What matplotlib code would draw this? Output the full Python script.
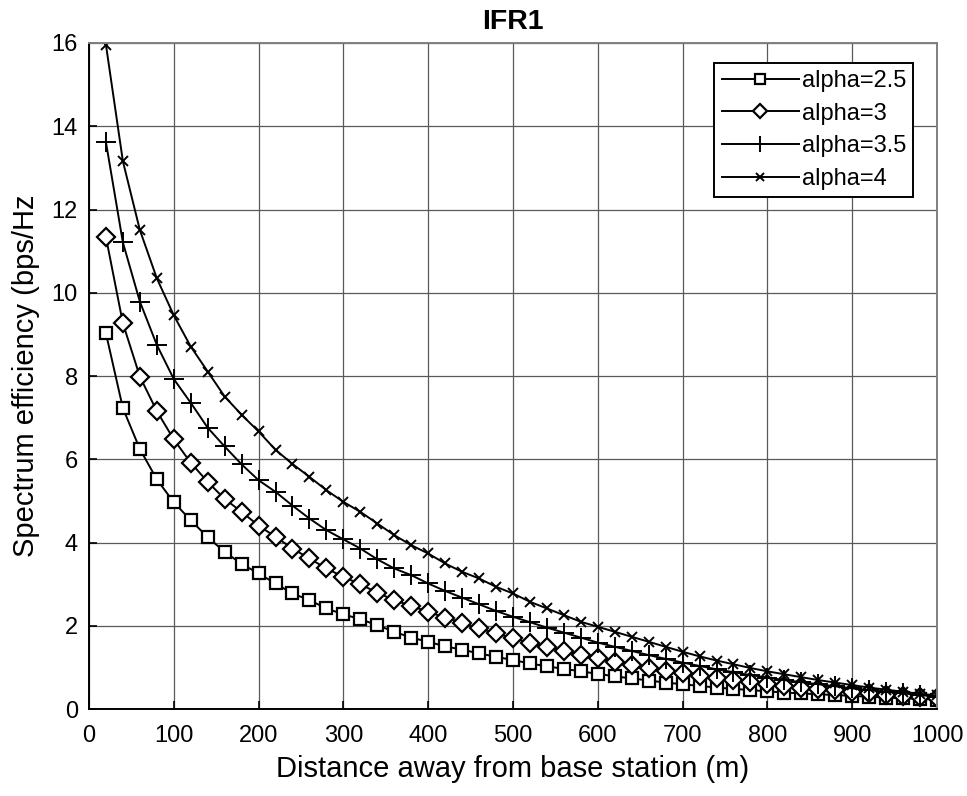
import matplotlib
matplotlib.use("Agg")
import matplotlib.pyplot as plt

distance = list(range(20, 1001, 20))

alpha_25 = [9.03, 7.23, 6.25, 5.52, 4.97, 4.54, 4.13, 3.78, 3.49, 3.26,
            3.02, 2.78, 2.62, 2.42, 2.28, 2.16, 2.02, 1.86, 1.72, 1.62,
            1.51, 1.43, 1.34, 1.26, 1.18, 1.10, 1.03, 0.97, 0.91, 0.85,
            0.79, 0.74, 0.69, 0.64, 0.60, 0.56, 0.52, 0.49, 0.46, 0.43,
            0.40, 0.38, 0.36, 0.34, 0.32, 0.30, 0.28, 0.26, 0.25, 0.23]

alpha_3 = [11.34, 9.27, 7.99, 7.16, 6.48, 5.92, 5.46, 5.05, 4.74, 4.41,
           4.14, 3.86, 3.62, 3.38, 3.18, 3.00, 2.80, 2.62, 2.48, 2.34,
           2.20, 2.08, 1.94, 1.82, 1.70, 1.60, 1.50, 1.40, 1.31, 1.22,
           1.14, 1.06, 0.99, 0.92, 0.86, 0.80, 0.75, 0.70, 0.65, 0.60,
           0.56, 0.52, 0.48, 0.45, 0.41, 0.38, 0.35, 0.32, 0.29, 0.27]

alpha_35 = [13.62, 11.21, 9.79, 8.75, 7.93, 7.36, 6.76, 6.31, 5.88, 5.50,
            5.22, 4.89, 4.58, 4.30, 4.08, 3.86, 3.60, 3.38, 3.22, 3.02,
            2.84, 2.68, 2.52, 2.36, 2.22, 2.09, 1.96, 1.84, 1.72, 1.60,
            1.50, 1.40, 1.30, 1.21, 1.12, 1.04, 0.96, 0.89, 0.82, 0.76,
            0.70, 0.65, 0.60, 0.55, 0.50, 0.46, 0.42, 0.38, 0.34, 0.30]

alpha_4 = [15.96, 13.16, 11.51, 10.35, 9.46, 8.71, 8.11, 7.51, 7.07, 6.67,
           6.23, 5.89, 5.58, 5.26, 4.98, 4.74, 4.46, 4.18, 3.94, 3.74,
           3.50, 3.30, 3.14, 2.94, 2.78, 2.58, 2.42, 2.26, 2.10, 1.98,
           1.86, 1.74, 1.62, 1.50, 1.38, 1.27, 1.17, 1.08, 0.99, 0.91,
           0.84, 0.77, 0.70, 0.64, 0.58, 0.52, 0.47, 0.42, 0.37, 0.33]

labels = ["alpha=2.5", "alpha=3", "alpha=3.5", "alpha=4"]
x_ticks = list(range(0, 1001, 100))
y_ticks = list(range(0, 17, 2))

plt.rcParams["font.family"] = ["Liberation Sans", "DejaVu Sans"]

fig = plt.figure(figsize=(9.67, 7.96), dpi=100)
ax = fig.add_axes([0.092, 0.109, 0.877, 0.837])

ax.plot(distance, alpha_25, color="black", lw=1.4, marker="s", ms=8.5,
        mfc="white", mec="black", mew=1.6, label=labels[0])
ax.plot(distance, alpha_3, color="black", lw=1.4, marker="D", ms=9,
        mfc="white", mec="black", mew=1.6, label=labels[1])
ax.plot(distance, alpha_35, color="black", lw=1.4, marker="+", ms=14,
        mew=1.4, label=labels[2])
ax.plot(distance, alpha_4, color="black", lw=1.4, marker="x", ms=7,
        mew=1.4, label=labels[3])

ax.set_xlim(0, 1000)
ax.set_ylim(0, 16)
ax.set_xticks(x_ticks)
ax.set_yticks(y_ticks)
ax.grid(True, color="0.35", lw=0.9)
ax.set_axisbelow(True)
ax.tick_params(direction="in", length=6, width=1.2, labelsize=17,
               top=False, right=False)
ax.tick_params(axis="x", pad=11)
ax.tick_params(axis="y", pad=8)
for s in ax.spines.values():
    s.set_linewidth(1.4)
    s.set_color("black")
ax.spines["top"].set_color("0.5")
ax.spines["right"].set_color("0.5")

ax.set_xlabel("Distance away from base station (m)", fontsize=21, labelpad=6)
ax.set_ylabel("Spectrum efficiency (bps/Hz", fontsize=21, labelpad=8)
ax.set_title("IFR1", fontsize=20.5, fontweight="bold", pad=10)

leg = ax.legend(loc="upper right", fontsize=17, handlelength=3.3,
                handletextpad=0.1, borderpad=0.3, labelspacing=0.45,
                fancybox=False, framealpha=1, edgecolor="black",
                bbox_to_anchor=(0.972, 0.97), borderaxespad=0,
                markerscale=0.8)
leg.get_frame().set_linewidth(1.4)

fig.savefig("out.png", dpi=100)
